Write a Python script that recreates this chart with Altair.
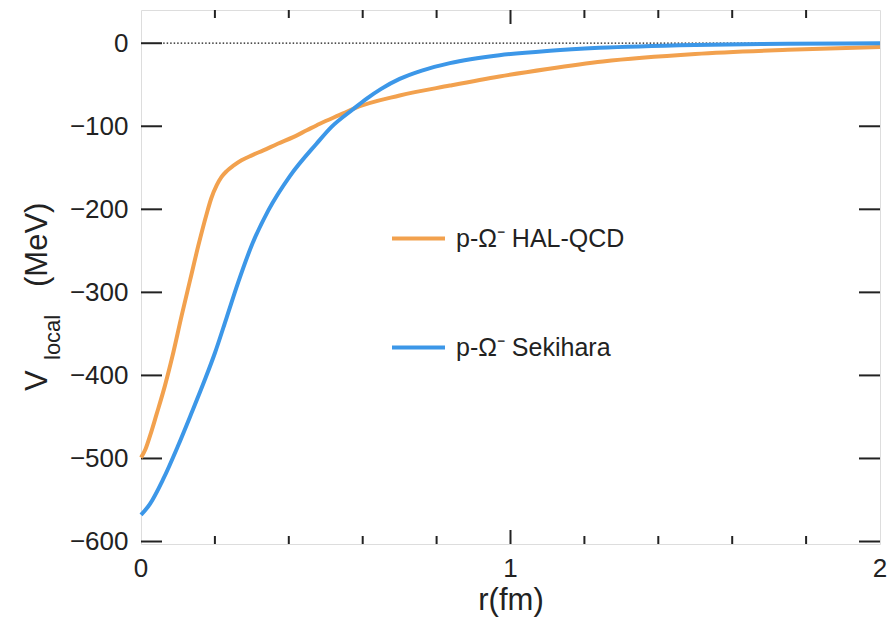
import altair as alt
import pandas as pd

# HAL-QCD (orange) potential, r in fm, V in MeV
hal_r = [0.0, 0.012, 0.025, 0.042, 0.065, 0.085, 0.11, 0.133, 0.155, 0.178, 0.19, 0.205,
         0.218, 0.232, 0.25, 0.272, 0.30, 0.331, 0.37, 0.412, 0.45, 0.484, 0.547, 0.574,
         0.70, 0.836, 0.97, 1.10, 1.25, 1.50, 1.75, 2.0]
hal_v = [-499, -489, -472, -447, -412, -377, -328, -285, -244, -205, -187, -171,
         -161, -154, -147.5, -141, -135, -129, -121, -113, -104.5, -97, -84.5, -79,
         -63, -51, -40, -31, -22, -13, -8, -4.5]

# Sekihara (blue) potential
sek_r = [0.0, 0.024, 0.06, 0.10, 0.137, 0.173, 0.20, 0.232, 0.263, 0.30, 0.345, 0.403,
         0.475, 0.515, 0.574, 0.61, 0.65, 0.70, 0.76, 0.836, 0.97, 1.107, 1.24, 1.5,
         1.75, 2.0]
sek_v = [-568, -555, -525, -485, -445, -405, -373, -330, -288, -243, -201, -160,
         -121, -101, -79.5, -67, -55, -43, -33, -24, -14.5, -9, -5.5, -2,
         -0.7, 0]

series_names = ["p-Ω⁻ HAL-QCD", "p-Ω⁻ Sekihara"]
series_colors = ["#F2A14E", "#3C97E8"]

y_tick_values = [-600, -500, -400, -300, -200, -100, 0]
x_label_values = [0, 1, 2]
x_label_texts = ["0", "1", "2"]
x_minor_ticks = [0.2, 0.4, 0.6, 0.8, 1.2, 1.4, 1.6, 1.8]
x_major_ticks = [1.0]
zero_line_r = [0.06, 2.0]

FONT = "Liberation Sans"
W, H = 739, 534

df = pd.DataFrame(
    {"r": hal_r + sek_r,
     "v": hal_v + sek_v,
     "series": [series_names[0]] * len(hal_r) + [series_names[1]] * len(sek_r)}
)

xs = alt.Scale(domain=[0, 2], nice=False)
ys = alt.Scale(domain=[-603, 40], nice=False)

x_axis = alt.Axis(values=x_label_values, labels=False, ticks=False, domain=False, grid=False,
                  title="r(fm)", titleFontSize=31, titleFont=FONT, titleFontWeight="normal",
                  titleColor="#222", titlePadding=41)
y_axis = alt.Axis(values=y_tick_values, ticks=False, domain=False, grid=False,
                  labelFontSize=26, labelFont=FONT, labelColor="#222", labelPadding=13,
                  labelOverlap=False, title=None)

lines = alt.Chart(df).mark_line(strokeWidth=4, interpolate="monotone").encode(
    x=alt.X("r:Q", scale=xs, axis=x_axis),
    y=alt.Y("v:Q", scale=ys, axis=y_axis),
    color=alt.Color("series:N",
                    scale=alt.Scale(domain=series_names, range=series_colors),
                    legend=alt.Legend(orient="none", legendX=249, legendY=200, title=None,
                                      symbolType="stroke", symbolStrokeWidth=4,
                                      symbolSize=2809, labelFontSize=25, labelFont=FONT,
                                      labelColor="#222", labelOffset=9, rowPadding=67,
                                      labelLimit=0)),
    detail="series:N",
)

zero_df = pd.DataFrame({"r": [zero_line_r[0]], "r2": [zero_line_r[1]], "v": [0]})
zero_line = alt.Chart(zero_df).mark_rule(color="#111", strokeWidth=1.2, strokeDash=[1.5, 2]).encode(
    x=alt.X("r:Q", scale=xs), x2="r2:Q", y=alt.Y("v:Q", scale=ys)
)

yt_df = pd.DataFrame({"v": y_tick_values})
y_ticks_left = alt.Chart(yt_df).mark_rule(color="#222", strokeWidth=2).encode(
    y=alt.Y("v:Q", scale=ys), x=alt.value(0), x2=alt.value(21)
)
y_ticks_right = alt.Chart(yt_df).mark_rule(color="#222", strokeWidth=2).encode(
    y=alt.Y("v:Q", scale=ys), x=alt.value(W - 21), x2=alt.value(W)
)

xmin_df = pd.DataFrame({"r": x_minor_ticks})
xmaj_df = pd.DataFrame({"r": x_major_ticks})
x_minor_bottom = alt.Chart(xmin_df).mark_rule(color="#222", strokeWidth=2).encode(
    x=alt.X("r:Q", scale=xs), y=alt.value(H - 8), y2=alt.value(H)
)
x_major_bottom = alt.Chart(xmaj_df).mark_rule(color="#222", strokeWidth=2).encode(
    x=alt.X("r:Q", scale=xs), y=alt.value(H - 14), y2=alt.value(H)
)
x_minor_top = alt.Chart(xmin_df).mark_rule(color="#222", strokeWidth=2).encode(
    x=alt.X("r:Q", scale=xs), y=alt.value(0), y2=alt.value(8)
)
x_major_top = alt.Chart(xmaj_df).mark_rule(color="#222", strokeWidth=2).encode(
    x=alt.X("r:Q", scale=xs), y=alt.value(0), y2=alt.value(14)
)

xl_df = pd.DataFrame({"r": x_label_values, "lab": x_label_texts})
x_labels = alt.Chart(xl_df).mark_text(baseline="top", align="center", fontSize=26,
                                      font=FONT, color="#222").encode(
    x=alt.X("r:Q", scale=xs), y=alt.value(H + 12), text="lab:N"
)

blank = alt.Data(values=[{}])
t_v = alt.Chart(blank).mark_text(angle=270, align="left", baseline="alphabetic",
                                 fontSize=31, font=FONT, color="#222").encode(
    x=alt.value(-94), y=alt.value(381), text=alt.value("V"))
t_sub = alt.Chart(blank).mark_text(angle=270, align="left", baseline="alphabetic",
                                   fontSize=22, font=FONT, color="#222").encode(
    x=alt.value(-81), y=alt.value(350), text=alt.value("local"))
t_unit = alt.Chart(blank).mark_text(angle=270, align="left", baseline="alphabetic",
                                    fontSize=31, font=FONT, color="#222").encode(
    x=alt.value(-94), y=alt.value(277), text=alt.value("(MeV)"))

chart = alt.layer(
    zero_line, y_ticks_left, y_ticks_right, x_minor_bottom, x_major_bottom,
    x_minor_top, x_major_top, lines, x_labels, t_v, t_sub, t_unit
).properties(
    width=W, height=H,
    padding={"left": 141, "top": 10, "right": 13, "bottom": 73},
    autosize=alt.AutoSizeParams(type="none"),
).configure_view(
    stroke="#3a3a3a", strokeWidth=2
).configure(background="white")

chart.save("out.html", embed_options={"renderer": "svg", "actions": False})
